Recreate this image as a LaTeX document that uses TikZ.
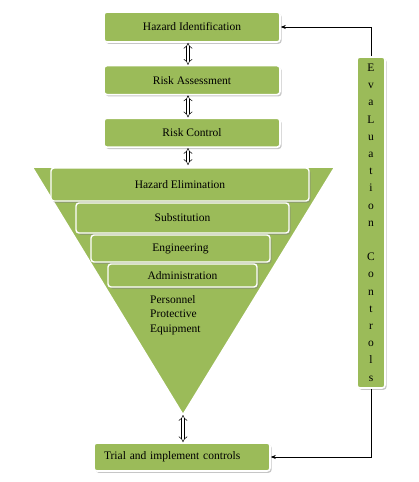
\documentclass[tikz,border=0pt]{standalone}
\usepackage{fontspec}
\setmainfont{Liberation Serif}
\usepackage{tikz}
\usetikzlibrary{calc,arrows.meta}
\usetikzlibrary{positioning}
\usetikzlibrary{shadows}
\definecolor{rc-green}{HTML}{9BBB59}
\definecolor{rc-text}{HTML}{000000}

\begin{document}
\begin{tikzpicture}[
    x=1pt, y=-1pt,
    font=\fontsize{11.5}{13}\selectfont,
    >={Stealth[length=5pt,width=4pt]}
  ]

  % Styles for the control hierarchy
  \tikzset{
    box/.style={draw=white, line width=1.6pt, fill=rc-green, rounded corners=3pt, text=rc-text, align=center, inner sep=2pt,
      drop shadow={shadow xshift=1.6pt, shadow yshift=-1.8pt, fill=black!50, opacity=0.45}},
    layer/.style={box, line width=1.4pt},
    dbl/.style={double, double distance=2.6pt, line width=0.5pt, {Implies}-{Implies}},
    feedback/.style={->, line width=0.6pt, black}
  }

  \useasboundingbox (0,0) rectangle (419,482);

  % Process Nodes
  \node (ident)   [box, minimum width=176pt, minimum height=30pt] at (192,27) {Hazard Identification};
  \node (assess)  [box, minimum width=176pt, minimum height=29pt, below=22pt of ident] {Risk Assessment};
  \node (control) [box, minimum width=176pt, minimum height=29pt, below=22pt of assess] {Risk Control};

  % Inverted triangle of controls
  \coordinate (tri_left)  at (32,167);
  \coordinate (tri_right) at (335,167);
  \coordinate (apex)      at (183,415);
  \coordinate (tri_top)   at (188,165);
  \fill[black!45, opacity=0.45, shift={(1.8pt,-1.8pt)}] (tri_left) -- (tri_right) -- (apex) -- cycle;
  \draw[white, line width=1.8pt, fill=rc-green, line join=round] (tri_left) -- (tri_right) -- (apex) -- cycle;

  \node (elim)  [layer, minimum width=258pt, minimum height=33pt] at (180,184.5) {Hazard Elimination};
  \node (subst) [layer, minimum width=213pt, minimum height=30pt] at (182.5,218) {Substitution};
  \node (engin) [layer, minimum width=179pt, minimum height=27pt] at (180.5,248.5) {Engineering};
  \node (admin) [layer, minimum width=149pt, minimum height=23pt] at (182.5,275.5) {Administration};
  \node (ppe)   [anchor=north west, align=left, inner sep=0pt, text=rc-text,
                 font=\fontsize{11.5}{14.5}\selectfont] at (150,295) {Personnel\\Protective\\Equipment};

  % Trial and feedback column
  \node (trial) [box, minimum width=176pt, minimum height=28pt, text width=156pt, align=left, inner xsep=10pt] at (182,457) {Trial and implement controls};
  \node (eval)  [box, minimum width=28pt, minimum height=331pt, inner sep=0pt,
                 font=\fontsize{11.5}{17.2}\selectfont] at (371,222.5)
    {E\\v\\a\\L\\u\\a\\t\\i\\o\\n\\\strut\\C\\o\\n\\t\\r\\o\\l\\s};

  % Two-way steps
  \draw[dbl] (ident.south -| tri_top) -- (assess.north -| tri_top);
  \draw[dbl] (assess.south -| tri_top) -- (control.north -| tri_top);
  \draw[dbl] (control.south -| tri_top) -- (tri_top);
  \draw[dbl] (apex) -- (trial.north -| apex);

  % Evaluation loops
  \draw[feedback] (eval.north) |- (ident.east);
  \draw[feedback] (eval.south) |- (trial.east);

\end{tikzpicture}
\end{document}
